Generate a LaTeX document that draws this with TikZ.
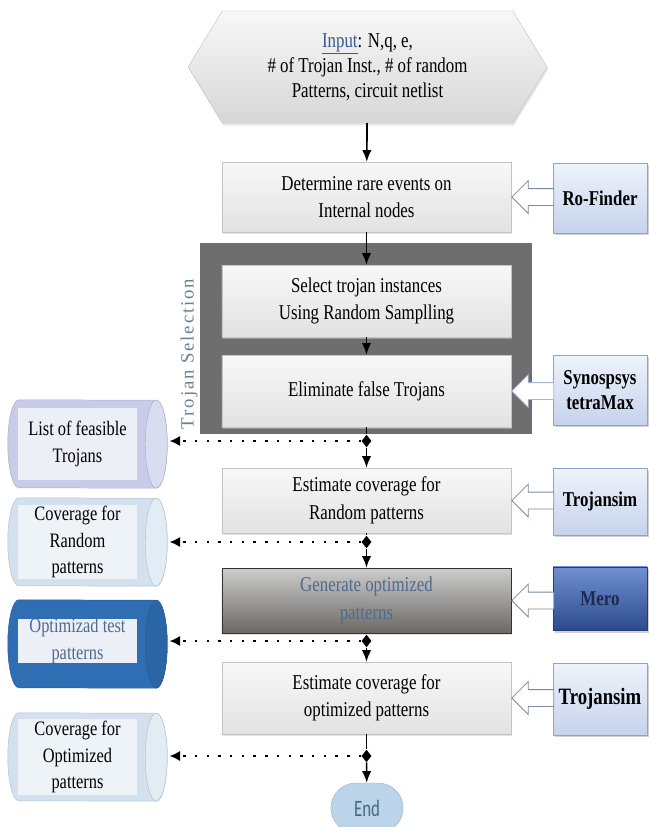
\documentclass[tikz,border=0pt]{standalone}
\usepackage{fontspec}
\setmainfont[FakeStretch=0.8]{Liberation Serif}
\newfontfamily\endfont[FakeStretch=0.72]{Carlito}
\newfontfamily\sidefont[LetterSpace=10]{Liberation Serif}
\usetikzlibrary{arrows.meta,calc,shapes.geometric,shapes.symbols,shapes.misc,shapes.arrows,shadows}
% body of a lying store drum round a node: (name)(body colour:cap colour)
\def\storecyl(#1)(#2:#3){%
	\filldraw[fill=#2, draw=#2!85!black, line width=0.4pt] ($(#1.north west)+(0.33cm,0)$) arc[start angle=90, end angle=270, x radius=0.33cm, y radius=1.32cm] -- ($(#1.south east)+(-0.33cm,0)$) arc[start angle=-90, end angle=90, x radius=0.33cm, y radius=1.32cm] -- cycle;
	\filldraw[fill=#3, draw=#2!85!black, line width=0.4pt] ($(#1.east)+(-0.33cm,0)$) ellipse[x radius=0.33cm, y radius=1.32cm];}

\definecolor{boxtop}{HTML}{F8F8F8}
\definecolor{boxbot}{HTML}{E2E2E2}
\definecolor{boxline}{HTML}{C4C4C4}
\definecolor{tooltop}{HTML}{EEF3FB}
\definecolor{toolbot}{HTML}{C6D3EC}
\definecolor{toolline}{HTML}{8FA3C8}
\definecolor{merotop}{HTML}{7090CF}
\definecolor{merobot}{HTML}{2C4B8E}
\definecolor{merotext}{HTML}{1C2A4E}
\definecolor{gentop}{HTML}{CDCDCD}
\definecolor{genbot}{HTML}{6B6863}
\definecolor{gentext}{HTML}{4D6B8F}
\definecolor{framegray}{HTML}{6E6E6E}
\definecolor{sidegray}{HTML}{6A7F99}
\definecolor{inputblue}{HTML}{3A5A8A}
\definecolor{arrline}{HTML}{7A8AA0}
\definecolor{endfill}{HTML}{BCD4EA}
\definecolor{endtext}{HTML}{46678A}
\definecolor{optblue}{HTML}{2F6EB3}
\definecolor{lstbody}{HTML}{C8CCE8}
\definecolor{lstcap}{HTML}{DADDF0}
\definecolor{lstin}{HTML}{EDEFF7}
\definecolor{covbody}{HTML}{D3E1EE}
\definecolor{covcap}{HTML}{E2ECF5}
\definecolor{covin}{HTML}{EEF3F8}

\tikzset{
	mainbox/.style={rectangle, draw=boxline, top color=boxtop, bottom color=boxbot, minimum width=8.67cm, align=center, inner sep=0pt, font=\fontsize{18}{23.5}\selectfont, drop shadow={shadow xshift=1pt, shadow yshift=-1.5pt, fill=black!22}},
	genbox/.style={mainbox, draw=black!80, top color=gentop, bottom color=genbot, text=gentext},
	toolbox/.style={rectangle, draw=toolline, top color=tooltop, bottom color=toolbot, minimum width=2.82cm, align=center, inner sep=0pt, font=\fontsize{18}{21.5}\selectfont\bfseries, drop shadow={shadow xshift=1.5pt, shadow yshift=-2pt, fill=black!35}},
	merobox/.style={toolbox, draw=merobot!80!black, top color=merotop, bottom color=merobot, text=merotext},
	hollowarr/.style={single arrow, draw=arrline, fill=white, line width=0.7pt, shape border rotate=180, minimum height=1.26cm, text height=0.48cm, text depth=0pt, single arrow head extend=0.24cm, inner sep=0pt},
	store/.style={rectangle, minimum width=4.77cm, minimum height=2.64cm, inner sep=0pt},
	storetext/.style={rectangle, minimum width=3.57cm, align=center, inner sep=0pt, font=\fontsize{17.5}{22.5}\selectfont},
	junc/.style={diamond, fill=black, inner sep=0pt, minimum width=0.3cm, minimum height=0.38cm},
	flow/.style={line width=1.4pt, -{Latex[length=10pt,width=8pt]}},
	plainline/.style={line width=1.4pt},
	dotflow/.style={line width=2pt, dash pattern=on 2pt off 8pt, -{Latex[length=9pt,width=9pt]}, shorten >=2pt}
}

\begin{document}
\begin{tikzpicture}[x=0.03cm, y=-0.03cm]
		%%%%% START %%%%%
		\useasboundingbox (0,0) rectangle (649,827);
		
		% trojan selection group
		\node[rectangle, fill=framegray, minimum width=9.96cm, minimum height=5.73cm] (tsel) at (366, 338.5) {};
		\node[rotate=90, text=sidegray, font=\sidefont\fontsize{16}{18}\selectfont] (tsellbl) at (189, 354) {Trojan Selection};
		
		% input
		\node[signal, signal to=west and east, signal pointer angle=117, draw=boxline, top color=boxtop, bottom color=boxbot!95!black, minimum width=10.77cm, minimum height=3.36cm, align=center, inner sep=0pt, font=\fontsize{18}{21.3}\selectfont, drop shadow={shadow xshift=1pt, shadow yshift=-2pt, fill=black!20}] (inp) at (367.5, 67)
			{{\color{inputblue}\underline{Input}}: N,q, e,\\\# of Trojan Inst., \# of random\\Patterns, circuit netlist};
		
		% main flow
		\node[mainbox, minimum height=2.1cm] (det) at (366.5, 197) {Determine rare events on\\Internal nodes};
		\node[mainbox, minimum height=2.16cm] (sel) at (366.5, 301) {Select trojan instances\\Using Random Samplling};
		\node[mainbox, minimum height=2.16cm] (elim) at (366.5, 391) {Eliminate false Trojans};
		\node[mainbox, minimum height=1.95cm] (est1) at (366.5, 500.5) {Estimate coverage for\\Random patterns};
		\node[genbox, minimum height=1.95cm] (gen) at (366.5, 600.5) {Generate optimized\\patterns};
		\node[mainbox, minimum height=2.16cm] (est2) at (366.5, 698) {Estimate coverage for\\optimized patterns};
		\node[rounded rectangle, fill=endfill, draw=endfill!85!black, minimum width=2.4cm, minimum height=1.5cm, text=endtext, font=\endfont\fontsize{20}{22}\selectfont] (endn) at (367, 808) {End};
		
		% tools
		\node[toolbox, minimum height=2.1cm] (rof) at (600, 198) {Ro-Finder};
		\node[toolbox, minimum height=2.1cm] (syn) at (600, 390) {Synospsys\\tetraMax};
		\node[toolbox, minimum height=2.0cm] (tsim1) at (600, 501.5) {Trojansim};
		\node[merobox, minimum height=1.9cm] (mero) at (600, 598.5) {Mero};
		\node[toolbox, minimum height=2.16cm, font=\fontsize{20}{22}\selectfont\bfseries] (tsim2) at (600, 699) {Trojansim};
		
		\node[hollowarr, anchor=tip] (a1) at (det.east) {};
		\node[hollowarr, anchor=tip, draw=toolline!80] (a2) at (elim.east) {};
		\node[hollowarr, anchor=tip] (a3) at (est1.east) {};
		\node[hollowarr, anchor=tip] (a4) at (gen.east) {};
		\node[hollowarr, anchor=tip] (a5) at (est2.east) {};
		
		% junctions
		\node[junc] (j1) at (366.5, 441) {};
		\node[junc] (j2) at (366.5, 542) {};
		\node[junc] (j3) at (366.5, 641) {};
		\node[junc] (j4) at (366.5, 756) {};
		
		% stores
		\node[store] (lst) at (87.5, 444) {};
		\storecyl(lst)(lstbody:lstcap)
		\node[storetext, fill=lstin, minimum height=2.16cm] (lsttxt) at (77.5, 444) {List of feasible\\Trojans};
		\node[store] (covr) at (87.5, 542) {};
		\storecyl(covr)(covbody:covcap)
		\node[storetext, fill=covin, minimum height=2.2cm] (covrtxt) at (77.5, 542) {Coverage for\\Random\\patterns};
		\node[store] (opt) at (87.5, 644) {};
		\storecyl(opt)(optblue:optblue!92!black)
		\node[storetext, fill=lstin, minimum height=1.3cm, text=gentext] (opttxt) at (77.5, 641) {Optimizad test\\patterns};
		\node[store] (covo) at (87.5, 757) {};
		\storecyl(covo)(covbody:covcap)
		\node[storetext, fill=covin, minimum height=2.3cm] (covotxt) at (77.5, 757) {Coverage for\\Optimized\\patterns};
		
		% connectors
		\draw[flow] (inp) -- (det);
		\draw[flow] (det) -- (sel);
		\draw[flow] (sel) -- (elim);
		\draw[plainline] (elim) -- (j1);
		\draw[flow] (j1) -- (est1);
		\draw[plainline] (est1) -- (j2);
		\draw[flow] (j2) -- (gen);
		\draw[plainline] (gen) -- (j3);
		\draw[flow] (j3) -- (est2);
		\draw[plainline] (est2) -- (j4);
		\draw[flow] (j4) -- (endn);
		
		\draw[dotflow] (j1) -- (j1 -| lst.east);
		\draw[dotflow] (j2) -- (j2 -| covr.east);
		\draw[dotflow] (j3) -- (j3 -| opt.east);
		\draw[dotflow] (j4) -- (j4 -| covo.east);
		
		%%%%% END %%%%%
\end{tikzpicture}
\end{document}
